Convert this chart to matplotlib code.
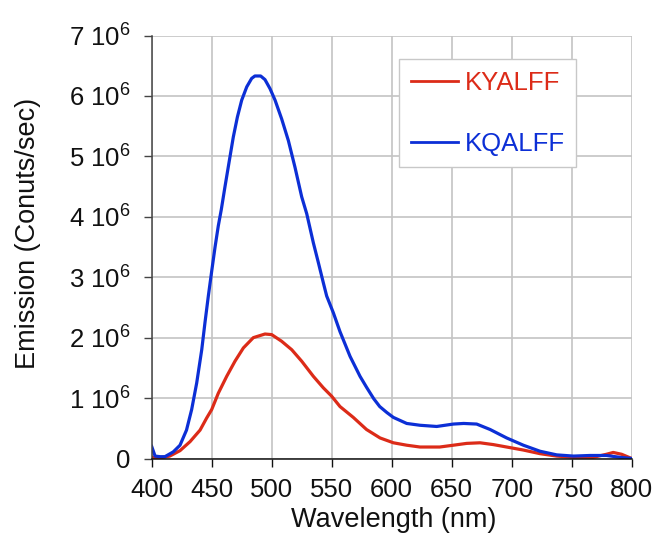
import numpy as np
import matplotlib
matplotlib.use("Agg")
import matplotlib.pyplot as plt

plt.rcParams['font.family'] = ['Liberation Sans', 'DejaVu Sans']
plt.rcParams['mathtext.fontset'] = 'custom'
plt.rcParams['mathtext.rm'] = 'Liberation Sans'
plt.rcParams['mathtext.default'] = 'regular'

# KYALFF (red) emission, wavelength in nm, counts/sec in units of 1e6
kyalff_wl = [400, 407, 415, 423.6, 432, 440.3, 445.8, 450, 455.5, 462.5, 469.4, 476.4, 484.7, 494.4,
             500, 508.3, 516.7, 525, 534.7, 543, 550, 556.9, 568, 579, 590.3, 601.4, 612.5, 623.6,
             640, 651.4, 662.5, 673.6, 684.7, 695.8, 709.7, 723.6, 737.5, 751.4, 768, 779, 784.6,
             791.6, 800]
kyalff_em = [0.02, 0.01, 0.04, 0.13, 0.28, 0.47, 0.67, 0.81, 1.08, 1.36, 1.61, 1.83, 2.00, 2.06,
             2.05, 1.94, 1.80, 1.61, 1.36, 1.17, 1.03, 0.86, 0.68, 0.48, 0.34, 0.26, 0.22, 0.19,
             0.19, 0.22, 0.25, 0.26, 0.23, 0.19, 0.14, 0.08, 0.04, 0.02, 0.02, 0.07, 0.10,
             0.07, 0.0]

# KQALFF (blue) emission
kqalff_wl = [400, 402.8, 407, 411, 418, 423.6, 429, 433.3, 437.5, 441.7, 444.4, 447.2, 450, 452.8,
             455.5, 458, 461, 464.7, 468, 471.4, 475, 479.2, 483.3, 486, 490.8, 494.4, 498.6, 502.8,
             508.3, 513.9, 519.4, 525, 529.2, 534.7, 538.9, 543, 545.8, 551.4, 556.9, 565.3, 573.6,
             579, 585, 590, 596, 601.4, 612.5, 623.6, 637.5, 651.4, 660, 670.8, 682, 695.8, 709.7,
             723.6, 737.5, 751.4, 765.3, 779, 790, 800]
kqalff_em = [0.20, 0.04, 0.03, 0.03, 0.11, 0.22, 0.47, 0.81, 1.25, 1.80, 2.25, 2.69, 3.10, 3.50,
             3.85, 4.12, 4.49, 4.93, 5.32, 5.65, 5.93, 6.15, 6.29, 6.33, 6.33, 6.27, 6.12, 5.93,
             5.62, 5.26, 4.82, 4.33, 4.05, 3.57, 3.24, 2.91, 2.69, 2.41, 2.10, 1.69, 1.36,
             1.18, 0.99, 0.86, 0.76, 0.68, 0.58, 0.55, 0.53, 0.57, 0.58, 0.57, 0.48, 0.34, 0.22,
             0.12, 0.06, 0.04, 0.05, 0.05, 0.02, 0.0]

series_names = ["KYALFF", "KQALFF"]
series_colors = ["#dc2b18", "#0c2fd6"]

x_ticks = [400, 450, 500, 550, 600, 650, 700, 750, 800]
y_ticks = [0, 1e6, 2e6, 3e6, 4e6, 5e6, 6e6, 7e6]
y_ticklabels = ["0"] + [f"{i} 10$^6$" for i in range(1, 8)]
x_label = "Wavelength (nm)"
y_label = "Emission (Conuts/sec)"

W, H = 655, 536
fig = plt.figure(figsize=(W / 100, H / 100), dpi=100)
left, right, top, bottom = 151.7, 631.7, 35.5, 458.5
ax = fig.add_axes([left / W, 1 - bottom / H, (right - left) / W, (bottom - top) / H])

ax.plot(kyalff_wl, np.array(kyalff_em) * 1e6, color=series_colors[0], lw=2.3, label=series_names[0],
        solid_joinstyle='round')
ax.plot(kqalff_wl, np.array(kqalff_em) * 1e6, color=series_colors[1], lw=2.3, label=series_names[1],
        solid_joinstyle='round')

ax.set_xlim(400, 800)
ax.set_ylim(0, 7e6)
ax.set_xticks(x_ticks)
ax.set_yticks(y_ticks)
ax.set_yticklabels(y_ticklabels)
ax.grid(True, color="#c4c4c4", lw=1.2)
ax.set_axisbelow(True)
for s in ["top", "right"]:
    ax.spines[s].set_visible(False)
ax.spines["left"].set_color("#444444")
ax.spines["bottom"].set_color("#111111")
ax.spines["left"].set_linewidth(1.1)
ax.spines["bottom"].set_linewidth(1.1)
ax.tick_params(axis='both', direction='out', length=6, width=1.0, labelsize=18.5, colors="#111111")
ax.tick_params(axis='y', pad=9)
ax.tick_params(axis='x', pad=8)
ax.tick_params(axis='y', colors="#444444", labelcolor="#111111")

fig.text(393.5 / W, 1 - 520 / H, x_label, ha='center', va='center', fontsize=19.5, color="#111111")
fig.text(28 / W, 1 - 233.5 / H, y_label, ha='center', va='center', rotation=90, fontsize=19.5,
         color="#111111")

leg = ax.legend(loc='upper left', bbox_to_anchor=(399 / W, 1 - 59 / H), bbox_transform=fig.transFigure,
                fontsize=18.5, frameon=True, fancybox=False, framealpha=1, edgecolor="#c8c8c8",
                handlelength=1.85, handletextpad=0.25, labelspacing=1.45, borderpad=0.45,
                borderaxespad=0, labelcolor='linecolor')
leg.get_frame().set_linewidth(1.0)
for line in leg.get_lines():
    line.set_linewidth(2.0)

fig.savefig("out.png", dpi=100)
